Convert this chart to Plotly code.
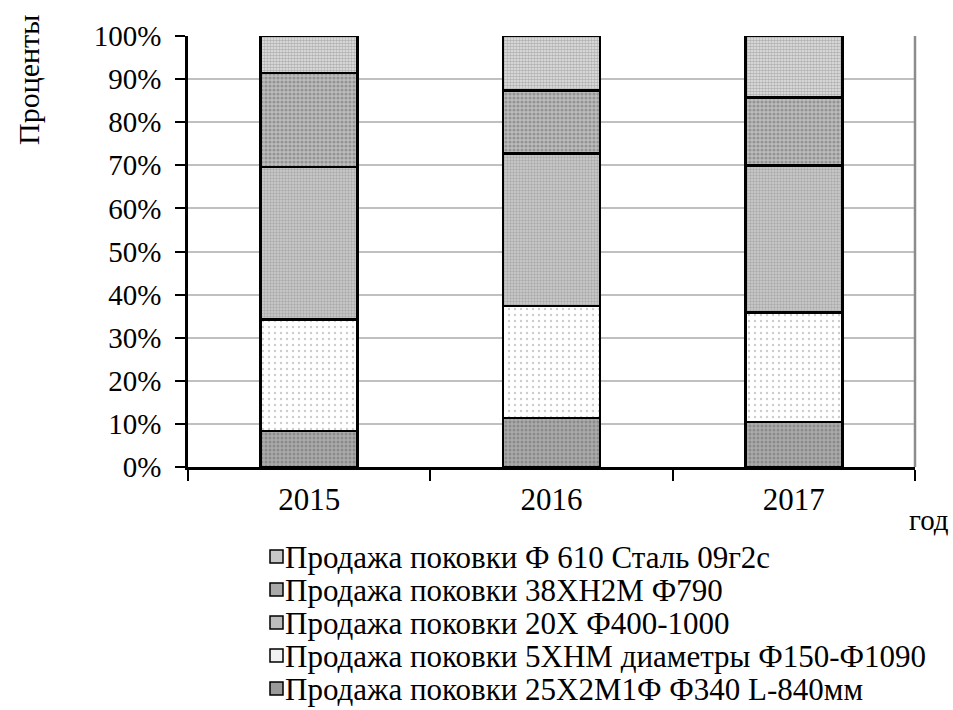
import plotly.graph_objects as go

# Years on the category axis
years = ["2015", "2016", "2017"]

# Share of each product in annual sales, % (bottom segment first)
forging_25x2m1f = [8.3, 11.4, 10.4]
forging_5xnm = [25.9, 25.9, 25.5]
forging_20x = [35.4, 35.4, 34.0]
forging_38xn2m = [21.8, 14.6, 15.8]
forging_f610 = [8.6, 12.7, 14.3]

series_names = [
    "Продажа поковки 25Х2М1Ф Ф340 L-840мм",
    "Продажа поковки 5ХНМ диаметры Ф150-Ф1090",
    "Продажа поковки 20Х Ф400-1000",
    "Продажа поковки 38ХН2М Ф790",
    "Продажа поковки Ф 610 Сталь 09г2с",
]
series_values = [forging_25x2m1f, forging_5xnm, forging_20x, forging_38xn2m, forging_f610]

y_ticks = [0, 10, 20, 30, 40, 50, 60, 70, 80, 90, 100]
y_tick_labels = [f"{v}%" for v in y_ticks]

# Monochrome fill patterns, one per series, plus a flat swatch tone for the key
patterns = [
    dict(shape=".", bgcolor="#ababab", fgcolor="#6a6a6a", size=4, solidity=0.45),
    dict(shape=".", bgcolor="#ffffff", fgcolor="#9a9a9a", size=6, solidity=0.12),
    dict(shape=".", bgcolor="#cdcdcd", fgcolor="#8a8a8a", size=3, solidity=0.5),
    dict(shape=".", bgcolor="#bdbdbd", fgcolor="#6c6c6c", size=4, solidity=0.5),
    dict(shape=".", bgcolor="#e6e6e6", fgcolor="#7c7c7c", size=3, solidity=0.6),
]
swatch_colors = ["#9a9a9a", "#f2f2f2", "#bcbcbc", "#a9a9a9", "#c8c8c8"]

FONT = "Liberation Serif, Times New Roman, serif"

# Plot area in pixels: left 188, right 915, top 36, bottom 467
W, H = 953, 710
L, R, T, B = 188, 38, 36, 243
PW, PH = W - L - R, H - T - B


def px_x(x):
    return (x - L) / PW


def px_y(y):
    return (H - B - y) / PH


fig = go.Figure()
for name, vals, pat in zip(series_names, series_values, patterns):
    fig.add_trace(go.Bar(
        x=years, y=vals, name=name,
        marker=dict(color=pat["bgcolor"], pattern=pat,
                    line=dict(color="#000000", width=2.5)),
        width=0.4,
        showlegend=False,
    ))

fig.update_layout(
    barmode="stack",
    width=W, height=H,
    margin=dict(l=L, r=R, t=T, b=B),
    paper_bgcolor="white", plot_bgcolor="white",
    font=dict(family=FONT, size=30, color="black"),
    showlegend=False,
)

fig.update_xaxes(
    type="category",
    showline=True, linecolor="black", linewidth=2.5,
    ticks="outside", tickson="boundaries", ticklen=11, tickwidth=2, tickcolor="black",
    ticklabelstandoff=3,
    showgrid=False,
    tickfont=dict(family=FONT, size=31),
)
fig.update_yaxes(
    range=[0, 100],
    tickvals=y_ticks, ticktext=y_tick_labels,
    showline=True, linecolor="black", linewidth=2.5,
    ticks="outside", ticklen=10, tickwidth=2, tickcolor="black",
    ticklabelstandoff=8,
    showgrid=True, gridcolor="#c0c0c0", gridwidth=2,
    zeroline=False,
    tickfont=dict(family=FONT, size=29),
)

# Right-hand frame line of the plot area
fig.add_shape(type="line", xref="paper", yref="paper", x0=1, x1=1, y0=0, y1=1,
              line=dict(color="#8c8c8c", width=2.5))

# Axis titles
fig.add_annotation(text="Проценты", xref="paper", yref="paper",
                   x=px_x(28), y=px_y(80), xanchor="center", yanchor="middle",
                   textangle=-90, showarrow=False,
                   font=dict(family=FONT, size=30))
fig.add_annotation(text="год", xref="paper", yref="paper",
                   x=px_x(951), y=px_y(520), xanchor="right", yanchor="middle",
                   showarrow=False, font=dict(family=FONT, size=29))

# Key below the chart, top entry = top segment of the stack
row_y = [557, 590, 623, 656, 689]
for i, (name, color) in enumerate(zip(reversed(series_names), reversed(swatch_colors))):
    yc = row_y[i]
    fig.add_shape(type="rect", xref="paper", yref="paper",
                  x0=px_x(270), x1=px_x(283), y0=px_y(yc - 7), y1=px_y(yc + 6),
                  fillcolor=color, line=dict(color="black", width=1.5))
    fig.add_annotation(text=name, xref="paper", yref="paper",
                       x=px_x(283), y=px_y(yc), xanchor="left", yanchor="middle",
                       showarrow=False, font=dict(family=FONT, size=31))

fig.write_html("out.html")
